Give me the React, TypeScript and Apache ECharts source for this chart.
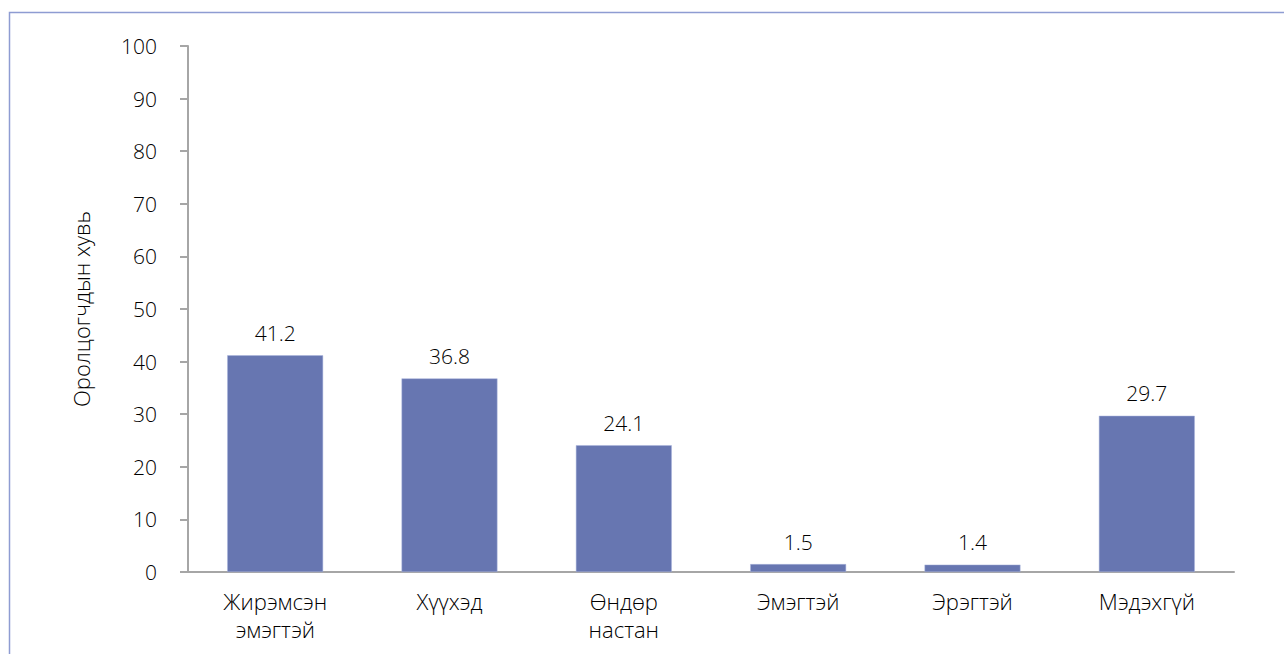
import React, { useEffect, useRef } from "react";
import * as echarts from "echarts";

const categories = ["Жирэмсэн\nэмэгтэй", "Хүүхэд", "Өндөр\nнастан", "Эмэгтэй", "Эрэгтэй", "Мэдэхгүй"];
const values = [41.2, 36.8, 24.1, 1.5, 1.4, 29.7];
const yAxisTitle = "Оролцогчдын хувь";

const FONT = "'Open Sans', 'Noto Sans', sans-serif";
const TEXT = "#000000";
const FS = 21;
const FW = 300;

export default function App() {
  const ref = useRef<HTMLDivElement>(null);
  useEffect(() => {
    if (!ref.current) return;
    const chart = echarts.init(ref.current, undefined, { renderer: "svg" });
    chart.setOption({
      animation: false,
      textStyle: { fontFamily: FONT },
      graphic: [
        {
          type: "rect",
          shape: { x: 9.5, y: 12.5, width: 1300, height: 700 },
          style: { fill: "none", stroke: "#8e9cd2", lineWidth: 1.5 },
          silent: true,
        },
      ],
      grid: { left: 188, right: 50, top: 46, bottom: 82, containLabel: false },
      xAxis: {
        type: "category",
        data: categories,
        axisLine: { show: true, lineStyle: { color: "#a6a6a6", width: 2 } },
        axisTick: { show: false },
        axisLabel: { color: TEXT, fontSize: 22, fontWeight: FW, fontFamily: FONT, margin: 15, lineHeight: 28, interval: 0 },
      },
      yAxis: {
        type: "value",
        min: 0,
        max: 100,
        interval: 10,
        name: yAxisTitle,
        nameLocation: "middle",
        nameGap: 96,
        nameTextStyle: { color: TEXT, fontSize: 22, fontWeight: FW, fontFamily: FONT },
        axisLine: { show: true, lineStyle: { color: "#a6a6a6", width: 2 } },
        axisTick: { show: true, length: 8, lineStyle: { color: "#a6a6a6", width: 2 } },
        splitLine: { show: false },
        axisLabel: { color: TEXT, fontSize: FS, fontWeight: FW, fontFamily: FONT, margin: 31 },
      },
      series: [
        {
          type: "bar",
          data: values,
          barWidth: "55%",
          itemStyle: { color: "#6776b1", borderColor: "#aab4dc", borderWidth: 0.5 },
          label: {
            show: true,
            position: "top",
            distance: 12,
            color: TEXT,
            fontSize: FS,
            fontWeight: FW,
            fontFamily: FONT,
            formatter: (p: any) => p.value.toFixed(1),
          },
        },
      ],
    });
    return () => chart.dispose();
  }, []);
  return <div ref={ref} style={{ position: "absolute", left: 0, top: 0, width: 1284, height: 654 }} />;
}
